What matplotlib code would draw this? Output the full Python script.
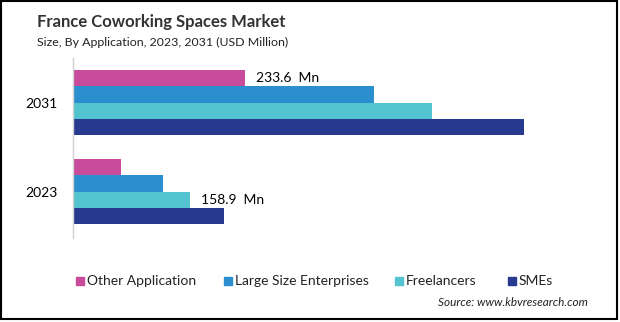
import matplotlib
matplotlib.use("Agg")
import matplotlib.pyplot as plt
from matplotlib.patches import Rectangle

years = ["2023", "2031"]
series = ["Other Application", "Large Size Enterprises", "Freelancers", "SMEs"]
other_application = [65.3, 233.6]
large_enterprises = [122.4, 409.6]
freelancers = [158.9, 488.0]
smes = [205.4, 613.0]
colors = ["#C94B9B", "#2B8FCF", "#52C3CF", "#283A90"]

plt.rcParams["font.family"] = ["Lato", "DejaVu Sans"]

W, H = 620, 322
fig = plt.figure(figsize=(W / 100, H / 100), dpi=100)

ax_left, ax_right, ax_top, ax_bot = 73, 560, 58, 238
ax = fig.add_axes([ax_left / W, 1 - ax_bot / H, (ax_right - ax_left) / W, (ax_bot - ax_top) / H])

h = 0.1826
values = [other_application, large_enterprises, freelancers, smes]
offsets = [1.5 * h, 0.5 * h, -0.5 * h, -1.5 * h]
ypos = list(range(len(years)))
for vals, off, col, name in zip(values, offsets, colors, series):
    ax.barh([y + off for y in ypos], vals, height=h, color=col, label=name, linewidth=0)

ax.set_xlim(0, (ax_right - ax_left) * 1.36)
ax.set_ylim(-0.522, 1.5)
ax.set_yticks(ypos)
ax.set_yticklabels(years, fontsize=10)
ax.tick_params(axis="y", length=0, pad=11)
ax.set_xticks([])
for s in ["top", "right", "bottom"]:
    ax.spines[s].set_visible(False)
ax.spines["left"].set_color("#D0D0D0")
ax.spines["left"].set_linewidth(1)

# value labels
ax.annotate("233.6  Mn", (other_application[1], 1 + offsets[0]), xytext=(8, 0),
            textcoords="offset points", va="center", fontsize=10)
ax.annotate("158.9  Mn", (freelancers[0], 0 + offsets[2]), xytext=(8, 0),
            textcoords="offset points", va="center", fontsize=10)

fig.text(37 / W, 1 - 22 / H, "France Coworking Spaces Market", fontsize=12,
         fontweight="bold", color="#333333", va="center")
fig.text(37 / W, 1 - 42 / H, "Size, By Application, 2023, 2031 (USD Million)", fontsize=8.9,
         color="#222222", va="center")

# legend
leg_x = [76, 224, 395, 508]
for x, col, name in zip(leg_x, colors, series):
    fig.patches.append(Rectangle((x / W, 1 - 285 / H), 8 / W, 8 / H, transform=fig.transFigure,
                                 color=col, figure=fig))
    fig.text((x + 11) / W, 1 - 281 / H, name, fontsize=10, va="center", color="#222222")

fig.text(588 / W, 1 - 303 / H, "Source: www.kbvresearch.com", fontsize=8.5,
         style="italic", ha="right", va="center", color="#222222")

fig.patches.append(Rectangle((1 / W, 3 / H), 616 / W, 318 / H, transform=fig.transFigure,
                             fill=False, edgecolor="black", linewidth=1.5, figure=fig))

fig.savefig("out.png", dpi=100)
